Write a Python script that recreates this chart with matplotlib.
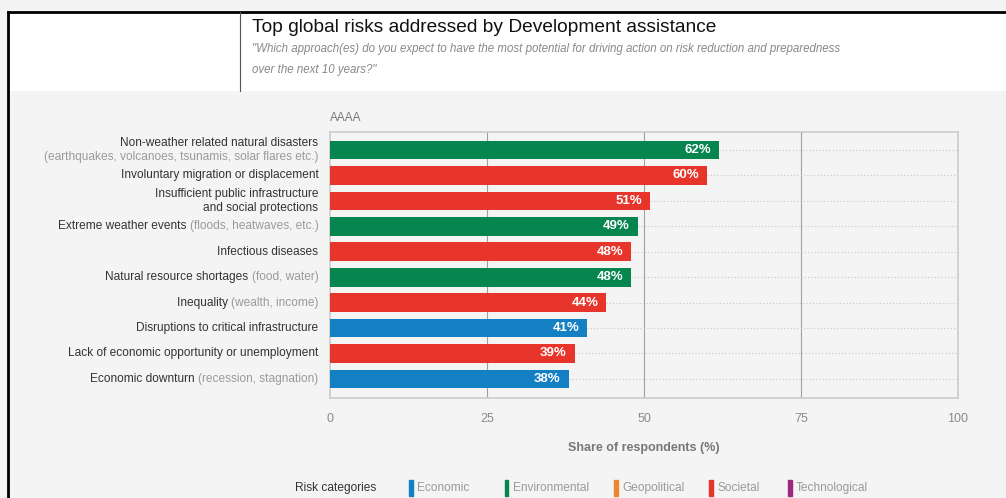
import matplotlib
matplotlib.use("Agg")
import matplotlib.pyplot as plt
from matplotlib.patches import Rectangle
from matplotlib.lines import Line2D

# data
risks = [
    "Non-weather related natural disasters",
    "Involuntary migration or displacement",
    "Insufficient public infrastructure\nand social protections",
    "Extreme weather events",
    "Infectious diseases",
    "Natural resource shortages",
    "Inequality",
    "Disruptions to critical infrastructure",
    "Lack of economic opportunity or unemployment",
    "Economic downturn",
]
details = [
    "(earthquakes, volcanoes, tsunamis, solar flares etc.)",
    "",
    "",
    "(floods, heatwaves, etc.)",
    "",
    "(food, water)",
    "(wealth, income)",
    "",
    "",
    "(recession, stagnation)",
]
shares = [62, 60, 51, 49, 48, 48, 44, 41, 39, 38]
risk_cat = ["Environmental", "Societal", "Societal", "Environmental", "Societal",
            "Environmental", "Societal", "Economic", "Societal", "Economic"]
categories = ["Economic", "Environmental", "Geopolitical", "Societal", "Technological"]
cat_colors = {
    "Economic": "#1480c4",
    "Environmental": "#06854f",
    "Geopolitical": "#ec8631",
    "Societal": "#e8352c",
    "Technological": "#9b2a7f",
}

plt.rcParams['font.family'] = ['Liberation Sans', 'DejaVu Sans']

W, H = 1006, 498
fig = plt.figure(figsize=(W / 100, H / 100), dpi=100)
fig.patch.set_facecolor("#f4f4f4")


def fx(px):
    return px / W


def fy(py):
    return 1 - py / H


# header band + frame
fig.patches.append(Rectangle((fx(8), fy(91)), 1, fy(12) - fy(91), transform=fig.transFigure,
                             facecolor="white", edgecolor="none", zorder=0))
fig.lines.append(Line2D([fx(8), 1], [fy(12), fy(12)], transform=fig.transFigure, color="black", lw=2))
fig.lines.append(Line2D([fx(8), fx(8)], [fy(12), 0], transform=fig.transFigure, color="black", lw=2))
fig.lines.append(Line2D([fx(240), fx(240)], [fy(12), fy(91)], transform=fig.transFigure,
                        color="#555555", lw=0.8))

fig.text(fx(252), fy(28), "Top global risks addressed by Development assistance",
         fontsize=13.8, color="#111111", va="center", ha="left")
fig.text(fx(252), fy(49),
         "\"Which approach(es) do you expect to have the most potential for driving action on risk reduction and preparedness",
         fontsize=8.3, color="#888888", style="italic", va="center", ha="left")
fig.text(fx(252), fy(70), "over the next 10 years?\"",
         fontsize=8.3, color="#888888", style="italic", va="center", ha="left")

# plot area
ax = fig.add_axes([fx(330), fy(398), fx(958) - fx(330), fy(132) - fy(398)])
ax.set_facecolor("#f4f4f4")
ypos = list(range(len(risks)))
colors = [cat_colors[c] for c in risk_cat]
ax.barh(ypos, shares, height=0.74, color=colors, zorder=3)
ax.hlines(ypos, shares, 100, colors="#c8c8c8", linestyles=(0, (1, 2)), lw=0.8, zorder=2)
for x in [25, 50, 75]:
    ax.axvline(x, color="#a0a0a0", lw=0.8, zorder=1)

for y, v in zip(ypos, shares):
    ax.text(v - 1.3, y, f"{v}%", ha="right", va="center", color="white",
            fontsize=9.5, fontweight="bold", zorder=4)

ax.set_xlim(0, 100)
ax.set_ylim(9.75, -0.71)
ax.set_xticks([0, 25, 50, 75, 100])
ax.set_yticks([])
ax.tick_params(axis="x", length=0, pad=11, labelcolor="#8a8a8a", labelsize=9)
for s in ax.spines.values():
    s.set_color("#cccccc")
    s.set_linewidth(1.2)
ax.set_xlabel("Share of respondents (%)", fontsize=9, fontweight="bold",
              color="#777777", labelpad=12)
ax.text(0, -1.28, "AAAA", fontsize=8.5, color="#777777", ha="left", va="center")

# category labels, dark main text + grey detail
for y, name, det in zip(ypos, risks, details):
    if det and name.startswith("Non-weather"):
        ax.annotate(name, xy=(0, y), xytext=(-8.3, 4.8), textcoords="offset points",
                    ha="right", va="center", fontsize=8.6, color="#333333",
                    annotation_clip=False)
        ax.annotate(det, xy=(0, y), xytext=(-8.3, -4.8), textcoords="offset points",
                    ha="right", va="center", fontsize=8.6, color="#9a9a9a",
                    annotation_clip=False)
    elif det:
        t = ax.annotate(det, xy=(0, y), xytext=(-8.3, 0), textcoords="offset points",
                        ha="right", va="center", fontsize=8.6,
                        color="#9a9a9a", annotation_clip=False)
        ax.annotate(name + " ", xy=(0, 0.5), xycoords=t, ha="right", va="center",
                    fontsize=8.6, color="#333333", annotation_clip=False)
    else:
        ax.annotate(name, xy=(0, y), xytext=(-8.3, 0), textcoords="offset points",
                    ha="right", va="center", fontsize=8.6, color="#333333",
                    linespacing=1.2, annotation_clip=False)

# legend row
fig.text(fx(295), fy(488), "Risk categories", fontsize=8.6, color="#333333", va="center")
leg_x = [409, 505, 614, 709, 788]
for x, cat in zip(leg_x, categories):
    fig.patches.append(Rectangle((fx(x), fy(496)), fx(3.5), fy(480) - fy(496),
                                 transform=fig.transFigure, color=cat_colors[cat]))
    fig.text(fx(x + 8), fy(488), cat, fontsize=8.6, color="#9a9a9a", va="center")

fig.savefig("out.png", dpi=100, facecolor=fig.get_facecolor())
